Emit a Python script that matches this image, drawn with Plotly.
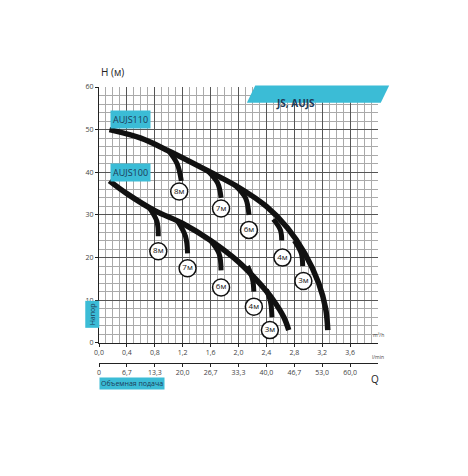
import plotly.graph_objects as go

q110 = [0.15, 0.6, 1.0, 1.6, 2.0, 2.4, 2.7, 2.95, 3.15, 3.25, 3.28]
h110 = [50, 48, 45, 40, 36.5, 32, 27, 21, 14, 8, 3]
q100 = [0.15, 0.4, 0.8, 1.2, 1.6, 2.0, 2.3, 2.5, 2.65, 2.72]
h100 = [38, 35, 31, 28, 24, 19, 14, 10, 6, 3]
branches = [
    ([1.0, 1.12, 1.18], [45, 42, 38], 1.15, 35.5, "8м"),
    ([1.55, 1.7, 1.75], [40.5, 37.5, 34], 1.75, 31.5, "7м"),
    ([1.95, 2.1, 2.15], [37, 34, 30], 2.15, 26.5, "6м"),
    ([2.5, 2.6, 2.62], [29, 26.5, 24], 2.63, 20, "4м"),
    ([2.8, 2.9, 2.92], [24, 21, 18], 2.93, 14.5, "3м"),
    ([0.73, 0.83, 0.85], [31.5, 28.5, 25], 0.85, 21.5, "8м"),
    ([1.13, 1.24, 1.27], [28.5, 25, 21], 1.27, 17.5, "7м"),
    ([1.6, 1.72, 1.75], [24, 21, 17], 1.75, 13, "6м"),
    ([2.13, 2.2, 2.22], [18, 15, 12], 2.22, 8.5, "4м"),
    ([2.4, 2.46, 2.48], [12.5, 9.5, 6], 2.45, 3, "3м"),
]
xticks = [0, 0.4, 0.8, 1.2, 1.6, 2.0, 2.4, 2.8, 3.2, 3.6]
xlabels = ["0,0", "0,4", "0,8", "1,2", "1,6", "2,0", "2,4", "2,8", "3,2", "3,6"]
lpm_labels = ["0", "6,7", "13,3", "20,0", "26,7", "33,3", "40,0", "46,7", "53,0", "60,0"]
yticks = [0, 10, 20, 30, 40, 50, 60]

fig = go.Figure()
ln = dict(color="#111", width=5.5, shape="spline")
fig.add_trace(go.Scatter(x=q110, y=h110, mode="lines", line=ln))
fig.add_trace(go.Scatter(x=q100, y=h100, mode="lines", line=ln))
for bx, by, lx, ly, t in branches:
    fig.add_trace(go.Scatter(x=bx, y=by, mode="lines", line=dict(color="#111", width=5, shape="spline")))
fig.add_trace(go.Scatter(x=[b[2] for b in branches], y=[b[3] for b in branches], mode="markers+text",
                         text=[b[4] for b in branches], textposition="middle center",
                         textfont=dict(size=8, color="#111"),
                         marker=dict(size=17, color="white", line=dict(color="#111", width=1.5))))
fig.add_trace(go.Scatter(x=[0], y=[0], xaxis="x2", mode="markers", marker=dict(opacity=0), hoverinfo="skip"))

fig.update_layout(
    width=468, height=476, showlegend=False, plot_bgcolor="white", paper_bgcolor="white",
    margin=dict(l=91, r=98, t=79, b=83),
    font=dict(family="Open Sans", size=7, color="#444"),
    xaxis=dict(range=[0, 4], tickvals=xticks, ticktext=xlabels, showgrid=True, gridcolor="#555", gridwidth=1,
               minor=dict(dtick=0.1, showgrid=True, gridcolor="#aaa", gridwidth=0.6),
               showline=True, linecolor="#222", mirror=False, zeroline=False, ticks="outside", ticklen=3, tickcolor="#222"),
    yaxis=dict(domain=[0.185, 1], range=[0, 60], tickvals=yticks, showgrid=True, gridcolor="#555", gridwidth=1,
               minor=dict(dtick=2, showgrid=True, gridcolor="#aaa", gridwidth=0.6),
               showline=True, linecolor="#222", zeroline=False, ticks="outside", ticklen=3, tickcolor="#222"),
    xaxis2=dict(range=[0, 4], tickvals=xticks, ticktext=lpm_labels, anchor="free", position=0.122, overlaying="x",
                side="bottom", showline=True, linecolor="#222", showgrid=False, ticks="outside", ticklen=3, tickcolor="#222"),
)
fig.add_shape(type="path", xref="paper", yref="paper", path="M 0.56 1.005 L 1.04 1.005 L 1.01 0.95 L 0.53 0.95 Z",
              fillcolor="#3bbcd6", line_width=0)
fig.add_annotation(xref="paper", yref="paper", x=0.78, y=0.977, text="<b>JS, AUJS</b>", showarrow=False,
                   font=dict(size=10, color="#1c3a56"))
for y, t in [(0.927, "AUJS110"), (0.758, "AUJS100")]:
    fig.add_annotation(xref="paper", yref="paper", x=0.04, y=y, xanchor="left", text=t, showarrow=False,
                       font=dict(size=9, color="#1c3a56"), bgcolor="#3bbcd6", borderpad=2)
fig.add_annotation(xref="paper", yref="paper", x=0.0, y=1.02, xanchor="left", yanchor="bottom", text="H (м)",
                   showarrow=False, font=dict(size=10, color="#222"))
fig.add_annotation(xref="paper", yref="paper", x=-0.05, y=0.23, text="Напор", textangle=-90, showarrow=False,
                   font=dict(size=7, color="#1c3a56"), bgcolor="#3bbcd6", borderpad=2)
fig.add_annotation(xref="paper", yref="paper", x=0.0, y=0.035, xanchor="left", text="Объемная подача",
                   showarrow=False, font=dict(size=7, color="#1c3a56"), bgcolor="#3bbcd6", borderpad=1)
fig.add_annotation(xref="paper", yref="paper", x=1.01, y=0.04, xanchor="right", text="Q", showarrow=False,
                   font=dict(size=10, color="#222"))
fig.add_annotation(xref="paper", yref="paper", x=1.03, y=0.195, xanchor="right", text="m³/h", showarrow=False,
                   font=dict(size=5, color="#444"))
fig.add_annotation(xref="paper", yref="paper", x=1.03, y=0.125, xanchor="right", text="l/min", showarrow=False,
                   font=dict(size=5, color="#444"))
fig.write_html("out.html")
